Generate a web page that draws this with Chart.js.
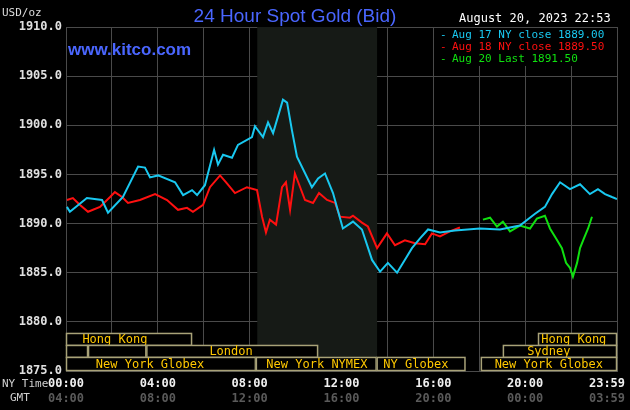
<!DOCTYPE html>
<html>
<head>
<meta charset="utf-8">
<script src="https://cdn.jsdelivr.net/npm/chart.js@4/dist/chart.umd.min.js"></script>
<style>
  html, body { margin: 0; padding: 0; background: #000; }
  #wrap { width: 630px; height: 410px; position: relative; }
</style>
</head>
<body>
<div id="wrap"><canvas id="gold" width="630" height="410"></canvas></div>
<script>
// times are NY hours (0..24), prices are USD/oz
const aug17Times = [0.04,0.17,0.91,1.57,1.83,2.48,3.14,3.44,3.66,4.01,4.75,5.10,5.49,5.71,6.05,6.45,6.62,6.84,7.23,7.49,8.10,8.23,8.58,8.80,9.02,9.45,9.63,9.84,10.06,10.71,10.98,11.28,11.63,12.06,12.50,12.89,13.33,13.68,14.02,14.42,14.55,14.81,15.07,15.42,15.77,16.29,16.94,18.03,18.90,19.77,20.43,20.86,21.17,21.52,21.95,22.39,22.82,23.17,23.48,23.78,24.0];
const aug17Prices = [1891.7,1891.2,1892.6,1892.4,1891.1,1892.7,1895.8,1895.7,1894.7,1894.9,1894.2,1892.9,1893.4,1892.9,1893.9,1897.5,1896.0,1897.0,1896.7,1898.0,1898.8,1899.9,1898.8,1900.3,1899.2,1902.6,1902.3,1899.5,1896.8,1893.7,1894.6,1895.1,1893.1,1889.5,1890.2,1889.4,1886.3,1885.1,1886.0,1885.0,1885.5,1886.5,1887.5,1888.5,1889.4,1889.1,1889.3,1889.5,1889.4,1889.8,1891.0,1891.7,1893.0,1894.2,1893.5,1894.0,1893.0,1893.5,1893.0,1892.7,1892.5];

const aug18Times = [0.04,0.30,0.61,0.96,1.48,1.92,2.13,2.44,2.70,3.22,3.88,4.40,4.88,5.27,5.53,5.97,6.27,6.71,7.01,7.36,7.88,8.32,8.54,8.71,8.88,9.15,9.41,9.58,9.76,9.97,10.41,10.76,11.02,11.37,11.72,11.93,12.37,12.50,12.89,13.15,13.55,13.98,14.33,14.76,15.20,15.64,15.94,16.29,16.72,17.16];
const aug18Prices = [1892.4,1892.6,1891.9,1891.2,1891.7,1892.7,1893.2,1892.7,1892.1,1892.4,1893.0,1892.4,1891.4,1891.6,1891.2,1891.9,1893.7,1894.9,1894.1,1893.1,1893.7,1893.4,1890.7,1889.1,1890.4,1889.9,1893.7,1894.2,1891.4,1895.1,1892.4,1892.1,1893.1,1892.4,1892.1,1890.7,1890.6,1890.8,1890.1,1889.7,1887.5,1889.0,1887.8,1888.3,1888.0,1887.9,1889.0,1888.7,1889.2,1889.6];

const aug20Times = [18.16,18.47,18.77,19.03,19.34,19.77,20.21,20.51,20.86,21.08,21.34,21.60,21.78,21.95,22.08,22.26,22.39,22.56,22.74,22.91];
const aug20Prices = [1890.4,1890.6,1889.7,1890.2,1889.2,1889.8,1889.5,1890.5,1890.8,1889.5,1888.5,1887.5,1886.0,1885.5,1884.6,1886.0,1887.5,1888.5,1889.5,1890.7];

const legendLabels = ['Aug 17 NY close 1889.00', 'Aug 18 NY close 1889.50', 'Aug 20 Last 1891.50'];
const seriesColors = ['#19c8f0', '#ff1010', '#10e010'];

const nyTimeLabels = ['00:00','04:00','08:00','12:00','16:00','20:00','23:59'];
const gmtTimeLabels = ['04:00','08:00','12:00','16:00','20:00','00:00','03:59'];
const labelHours = [0,4,8,12,16,20,24];

// session bars: row, start hour, end hour, label, label centre hour
const sessionRows = [0,0,1,1,1,1,2,2,2,2];
const sessionStart = [0,20.56,0,0.96,3.5,19.03,0,8.27,13.53,18.07];
const sessionEnd = [5.49,24,0.96,3.5,10.98,24,8.27,13.53,17.4,24];
const sessionNames = ['Hong Kong','Hong Kong','','','London','Sydney','New York Globex','New York NYMEX','NY Globex','New York Globex'];
const sessionLabelAt = [2.13,22.12,0,0,7.19,21.03,3.66,10.93,15.24,21.03];
const rowTop = [1878.87,1877.65,1876.43];
const rowBottom = [1877.65,1876.43,1875.1];

const shadeFrom = 8.33, shadeTo = 13.55;

const toPoints = (t, p) => t.map((x, i) => ({ x: x, y: p[i] }));

const mono = '"DejaVu Sans Mono", monospace';

const decor = {
  id: 'decor',
  beforeDatasetsDraw(chart) {
    const { ctx, chartArea: a, scales: { x } } = chart;
    ctx.save();
    ctx.fillStyle = '#161a16';
    ctx.fillRect(x.getPixelForValue(shadeFrom), a.top, x.getPixelForValue(shadeTo) - x.getPixelForValue(shadeFrom), a.bottom - a.top);
    ctx.restore();
  },
  afterDraw(chart) {
    const { ctx, scales: { x, y } } = chart;
    ctx.save();
    // session bars
    ctx.font = '12px ' + mono;
    ctx.textAlign = 'center';
    ctx.textBaseline = 'middle';
    sessionRows.forEach((r, i) => {
      const x0 = x.getPixelForValue(sessionStart[i]);
      const x1 = x.getPixelForValue(sessionEnd[i]);
      const y0 = y.getPixelForValue(rowTop[r]);
      const y1 = y.getPixelForValue(rowBottom[r]);
      ctx.fillStyle = '#000';
      ctx.fillRect(x0, y0, x1 - x0, y1 - y0);
      if (sessionStart[i] >= shadeFrom && sessionEnd[i] <= shadeTo + 0.01) {
        ctx.fillStyle = '#161a16';
        ctx.fillRect(x0, y0, x1 - x0, y1 - y0);
      }
      ctx.strokeStyle = '#a8a278';
      ctx.lineWidth = 1.5;
      ctx.strokeRect(x0 + 0.5, y0 + 0.5, x1 - x0 - 1, y1 - y0);
      ctx.fillStyle = '#ffc800';
      if (sessionNames[i]) ctx.fillText(sessionNames[i], x.getPixelForValue(sessionLabelAt[i]), (y0 + y1) / 2 + 1);
    });

    // title & header texts
    ctx.textBaseline = 'alphabetic';
    ctx.font = '19px "Liberation Sans", Arial, sans-serif';
    ctx.fillStyle = '#4a66ff';
    ctx.textAlign = 'center';
    ctx.fillText('24 Hour Spot Gold (Bid)', 295, 22);
    ctx.font = 'bold 17px "Liberation Sans", Arial, sans-serif';
    ctx.textAlign = 'left';
    ctx.fillText('www.kitco.com', 68, 55);
    ctx.font = '11px ' + mono;
    ctx.fillStyle = '#dddddd';
    ctx.fillText('USD/oz', 2, 16);
    ctx.font = '12px ' + mono;
    ctx.fillStyle = '#ffffff';
    ctx.fillText('August 20, 2023 22:53', 459, 22);

    // legend
    ctx.fillStyle = '#000';
    ctx.fillRect(436, 28, 180, 38);
    ctx.font = '11px ' + mono;
    legendLabels.forEach((l, i) => {
      ctx.fillStyle = seriesColors[i];
      ctx.fillText('-', 440, 38 + i * 12);
      ctx.fillText(l, 452, 38 + i * 12);
    });

    // time labels
    ctx.font = 'bold 12px ' + mono;
    labelHours.forEach((h, i) => {
      const px = Math.min(x.getPixelForValue(h), 607);
      ctx.textAlign = 'center';
      ctx.fillStyle = '#f0f0f0';
      ctx.fillText(nyTimeLabels[i], px, 387);
      ctx.fillStyle = '#5a5a5a';
      ctx.fillText(gmtTimeLabels[i], px, 402);
    });
    ctx.font = '11px ' + mono;
    ctx.textAlign = 'left';
    ctx.fillStyle = '#d0d0d0';
    ctx.fillText('NY Time', 2, 387);
    ctx.fillText('GMT', 10, 401);
    ctx.restore();
  }
};

new Chart(document.getElementById('gold'), {
  type: 'line',
  data: {
    datasets: [
      { data: toPoints(aug17Times, aug17Prices), borderColor: seriesColors[0] },
      { data: toPoints(aug18Times, aug18Prices), borderColor: seriesColors[1] },
      { data: toPoints(aug20Times, aug20Prices), borderColor: seriesColors[2] }
    ].map(d => Object.assign(d, { borderWidth: 2, pointRadius: 0, tension: 0, fill: false }))
  },
  options: {
    responsive: false,
    animation: false,
    layout: { padding: { top: 27, right: 13, bottom: 39, left: 0 } },
    plugins: { legend: { display: false }, tooltip: { enabled: false } },
    scales: {
      x: {
        type: 'linear', min: 0, max: 24,
        ticks: { display: false, stepSize: 2 },
        grid: { color: '#4a4a4a', lineWidth: 1, drawTicks: false },
        border: { color: '#4a4a4a' }
      },
      y: {
        min: 1875, max: 1910,
        afterFit: s => { s.width = 66; },
        ticks: {
          stepSize: 5, padding: 4,
          color: '#e0e0e0',
          font: { family: mono, size: 12, weight: 'bold' },
          callback: v => v.toFixed(1)
        },
        grid: { color: '#4a4a4a', lineWidth: 1, drawTicks: false },
        border: { color: '#4a4a4a' }
      }
    }
  },
  plugins: [decor]
});
</script>
</body>
</html>
